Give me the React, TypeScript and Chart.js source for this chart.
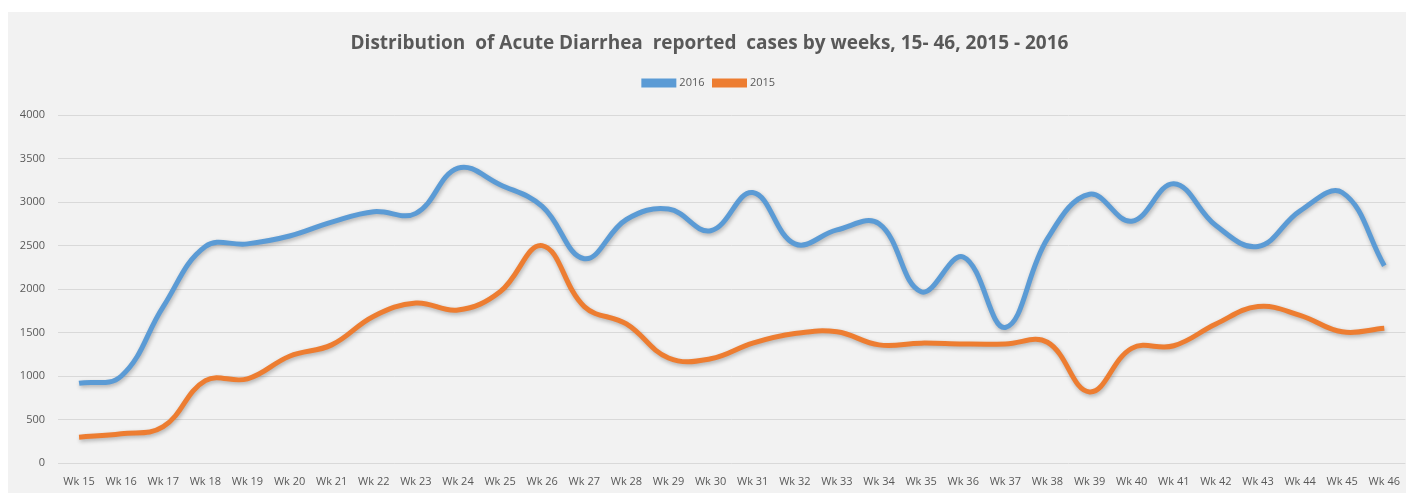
import React, { useEffect, useRef } from "react";
import { Chart, registerables } from "chart.js";

Chart.register(...registerables);

const weeks = [
  "Wk 15", "Wk 16", "Wk 17", "Wk 18", "Wk 19", "Wk 20", "Wk 21", "Wk 22",
  "Wk 23", "Wk 24", "Wk 25", "Wk 26", "Wk 27", "Wk 28", "Wk 29", "Wk 30",
  "Wk 31", "Wk 32", "Wk 33", "Wk 34", "Wk 35", "Wk 36", "Wk 37", "Wk 38",
  "Wk 39", "Wk 40", "Wk 41", "Wk 42", "Wk 43", "Wk 44", "Wk 45", "Wk 46",
];

const cases2016 = [
  920, 1000, 1800, 2490, 2520, 2610, 2770, 2890,
  2870, 3390, 3200, 2950, 2350, 2800, 2920, 2670,
  3110, 2520, 2680, 2750, 1970, 2370, 1560, 2580,
  3090, 2780, 3210, 2730, 2490, 2900, 3110, 2270,
];

const cases2015 = [
  300, 340, 420, 950, 970, 1230, 1360, 1690,
  1840, 1760, 1970, 2500, 1800, 1600, 1210, 1200,
  1380, 1490, 1510, 1360, 1380, 1370, 1370, 1390,
  820, 1320, 1350, 1600, 1800, 1700, 1510, 1550,
];

const yTicks = [0, 500, 1000, 1500, 2000, 2500, 3000, 3500, 4000];

const titleText = "Distribution  of Acute Diarrhea  reported  cases by weeks, 15- 46, 2015 - 2016";

const FONT = "'Open Sans', sans-serif";

const shadowPlugin = {
  id: "lineShadow",
  beforeDatasetDraw(chart: any) {
    const c = chart.ctx;
    c.save();
    c.shadowColor = "rgba(0,0,0,0.28)";
    c.shadowBlur = 4;
    c.shadowOffsetX = 1;
    c.shadowOffsetY = 2;
  },
  afterDatasetDraw(chart: any) {
    chart.ctx.restore();
  },
};

const legendSpacer = {
  id: "legendSpacer",
  afterInit(chart: any) {
    const lg = chart.legend;
    if (!lg) return;
    const fit = lg.fit.bind(lg);
    lg.fit = () => {
      fit();
      lg.height += 16.5;
    };
  },
};

export default function App() {
  const ref = useRef<HTMLCanvasElement | null>(null);

  useEffect(() => {
    if (!ref.current) return;
    Chart.defaults.font.family = FONT;
    const chart = new Chart(ref.current, {
      type: "line",
      data: {
        labels: weeks,
        datasets: [
          {
            label: "2016",
            data: cases2016,
            borderColor: "#5B9BD5",
            backgroundColor: "#5B9BD5",
            borderWidth: 5,
            pointRadius: 0,
            tension: 0.4,
            fill: false,
          },
          {
            label: "2015",
            data: cases2015,
            borderColor: "#ED7D31",
            backgroundColor: "#ED7D31",
            borderWidth: 5,
            pointRadius: 0,
            tension: 0.4,
            fill: false,
          },
        ],
      },
      options: {
        responsive: false,
        animation: false,
        layout: { padding: { left: 0, right: 1, top: 0, bottom: 0 } },
        plugins: {
          title: {
            display: true,
            text: titleText,
            color: "#595959",
            font: { size: 19, weight: "bold", family: FONT },
            padding: { top: 20.6, bottom: 12.1 },
          },
          legend: {
            display: true,
            position: "top",
            labels: {
              boxWidth: 30,
              boxHeight: 4,
              padding: 10,
              color: "#595959",
              font: { size: 11, family: FONT },
            },
          },
          tooltip: { enabled: false },
        },
        scales: {
          x: {
            offset: true,
            grid: { display: false, drawTicks: false },
            border: { display: false },
            ticks: {
              color: "#595959",
              font: { size: 11, family: FONT },
              padding: 12,
              maxRotation: 0,
              autoSkip: false,
            },
            afterFit: (s: any) => {
              s.height = 29.7;
            },
          },
          y: {
            min: 0,
            max: 4000,
            afterBuildTicks: (s: any) => {
              s.ticks = yTicks.map((v) => ({ value: v }));
            },
            grid: { color: "#d9d9d9", lineWidth: 1, drawTicks: false },
            border: { display: false },
            ticks: {
              color: "#595959",
              font: { size: 11, family: FONT },
              padding: 13,
              callback: (v: any) => String(v),
            },
            afterFit: (s: any) => {
              s.width = 50;
            },
          },
        },
      },
      plugins: [shadowPlugin, legendSpacer],
    });
    return () => chart.destroy();
  }, []);

  return (
    <div
      style={{
        position: "fixed",
        left: 8,
        top: 12,
        width: 1398,
        height: 481,
        overflow: "hidden",
        background: "#f2f2f2",
      }}
    >
      <div style={{ width: 1404, height: 481 }}>
        <canvas ref={ref} width={1404} height={481} style={{ display: "block" }} />
      </div>
    </div>
  );
}
